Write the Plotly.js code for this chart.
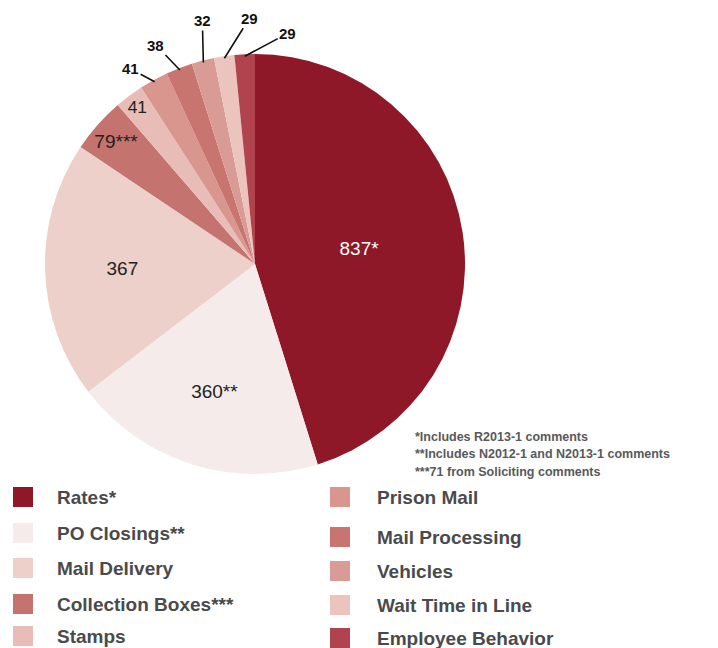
<!DOCTYPE html>
<html><head><meta charset="utf-8">
<script src="https://cdn.plot.ly/plotly-3.0.1.min.js"></script>
<style>html,body{margin:0;padding:0;background:#fff;}#chart{width:718px;height:648px;}</style>
</head><body><div id="chart"></div>
<script>
const categories = ["Rates*", "PO Closings**", "Mail Delivery", "Collection Boxes***", "Stamps",
  "Prison Mail", "Mail Processing", "Vehicles", "Wait Time in Line", "Employee Behavior"];
const values = [837, 360, 367, 79, 41, 41, 38, 32, 29, 29];
const sliceText = ["837*", "360**", "367", "79***", "41", "41", "38", "32", "29", "29"];
const colors = ["#8E1728", "#F5EBEA", "#EDD0CA", "#C5736F", "#E8BDB7",
  "#D8968F", "#C87570", "#D99B95", "#EBC4BE", "#B0434D"];
const footnotes = ["*Includes R2013-1 comments", "**Includes N2012-1 and N2013-1 comments", "***71 from Soliciting comments"];

const W = 718, H = 648;
const pie = {x0: 45, x1: 465, y0: 54, y1: 474};
const nInside = 5;
const textPos = values.map((v, i) => i < nInside ? "inside" : "none");
const textColors = values.map((v, i) => i === 0 ? "#ffffff" : "#222222");

const trace = {
  type: "pie",
  labels: categories,
  values: values,
  text: sliceText,
  textinfo: "text",
  sort: false,
  direction: "clockwise",
  rotation: 0,
  marker: {colors: colors, line: {width: 0}},
  textposition: textPos,
  insidetextorientation: "horizontal",
  textfont: {family: "Liberation Sans Narrow, Arial", size: 19, color: textColors},
  domain: {x: [pie.x0/W, pie.x1/W], y: [1 - pie.y1/H, 1 - pie.y0/H]},
  hoverinfo: "label+value",
  showlegend: false
};

const annotations = [];
const shapes = [];

// outside labels with leader lines, anchored at the slice's mid-angle on the rim
const total = values.reduce((a, b) => a + b, 0);
const cx = (pie.x0 + pie.x1) / 2, cy = (pie.y0 + pie.y1) / 2, R = (pie.x1 - pie.x0) / 2 - 2;
const labelOffsets = [[-24, -13], [-24, -25], [-1, -42], [25, -40], [43, -23]];
let cum = 0;
values.forEach((v, i) => {
  const mid = cum + v / 2; cum += v;
  if (i < nInside) return;
  const th = mid / total * 2 * Math.PI;
  const px = cx + R * Math.sin(th), py = cy - R * Math.cos(th);
  const off = labelOffsets[i - nInside];
  annotations.push({xref: "paper", yref: "paper", x: px / W, y: 1 - py / H,
    ax: off[0], ay: off[1], showarrow: true, arrowhead: 0, arrowwidth: 1.6, arrowcolor: "#111",
    standoff: 0, startstandoff: 0, text: "<b>" + sliceText[i] + "</b>",
    font: {family: "Liberation Sans Narrow, Arial", size: 15, color: "#111"}});
});

footnotes.forEach((t, i) => {
  annotations.push({xref: "paper", yref: "paper", x: 413/W, y: 1 - (437 + i*17.5)/H,
    xanchor: "left", yanchor: "middle", showarrow: false, text: "<b>" + t + "</b>",
    font: {family: "Liberation Sans Narrow, Arial", size: 12.5, color: "#58595B"}});
});
const leftY = [497, 533, 568, 604, 636];
const rightY = [497, 537, 571, 605, 638];
categories.forEach((c, i) => {
  const col = i < 5 ? 0 : 1;
  const yc = col === 0 ? leftY[i] : rightY[i - 5];
  const sx = col === 0 ? 13 : 330;
  shapes.push({type: "rect", xref: "paper", yref: "paper",
    x0: sx/W, x1: (sx + 20)/W, y0: 1 - (yc + 10)/H, y1: 1 - (yc - 10)/H,
    fillcolor: colors[i], line: {width: 0}});
  annotations.push({xref: "paper", yref: "paper", x: (col === 0 ? 55 : 375)/W, y: 1 - yc/H,
    xanchor: "left", yanchor: "middle", showarrow: false, text: "<b>" + c + "</b>",
    font: {family: "Liberation Sans, Arial", size: 19, color: "#4A4A4D"}});
});

const layout = {
  width: W, height: H,
  margin: {l: 0, r: 0, t: 0, b: 0},
  paper_bgcolor: "#fff",
  showlegend: false,
  annotations: annotations,
  shapes: shapes
};
Plotly.newPlot("chart", [trace], layout, {displayModeBar: false, staticPlot: true});
</script></body></html>
